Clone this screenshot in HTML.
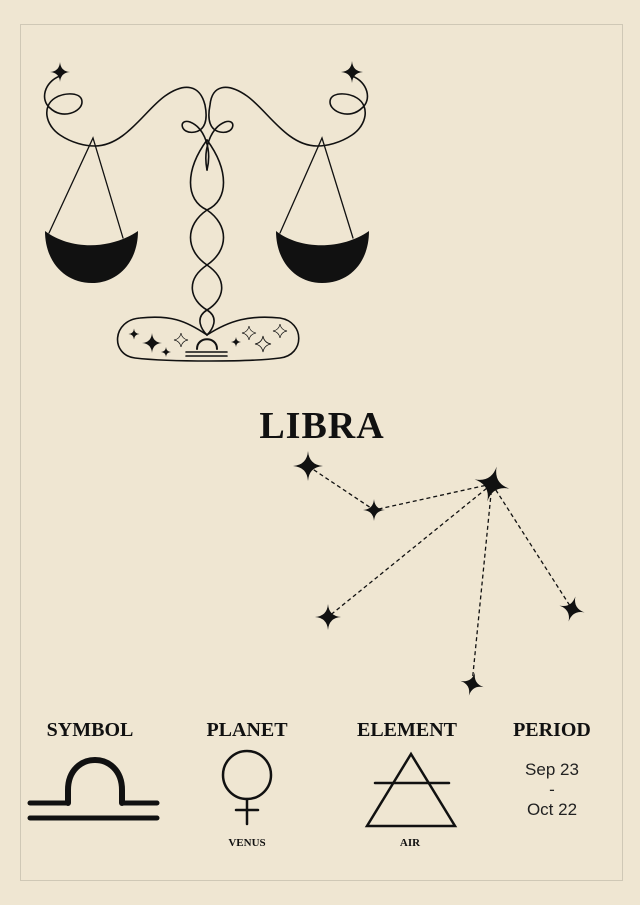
<!DOCTYPE html>
<html><head><meta charset="utf-8"><style>
html,body{margin:0;padding:0;background:#efe6d2;}
svg{display:block}
text{font-family:"Liberation Serif",serif;fill:#111}
</style></head><body>
<svg width="640" height="905" viewBox="0 0 640 905" xmlns="http://www.w3.org/2000/svg">
<defs>
<path id="st" d="M0,-10 Q0.7,-0.7 10,0 Q0.7,0.7 0,10 Q-0.7,0.7 -10,0 Q-0.7,-0.7 0,-10Z"/>
<path id="so" d="M0,-10 Q1.5,-1.5 10,0 Q1.5,1.5 0,10 Q-1.5,1.5 -10,0 Q-1.5,-1.5 0,-10Z" fill="none" stroke="#111" stroke-width="1"/>
</defs>
<rect x="0" y="0" width="640" height="905" fill="#efe6d2"/>
<rect x="20.5" y="24.5" width="602" height="856" fill="none" stroke="#cfc8b6" stroke-width="1"/>
<g fill="none" stroke="#111" stroke-width="1.6" stroke-linecap="round">
<path d="M60,76 C44,82 40,100 50,108 C62,120 82,112 82,102 C82,92 65,92 55,98 C42,106 45,125 60,135 C72,143 85,146 95,146 C125,146 145,110 165,96 C185,82 200,85 205,105 C208,120 205,130 195,132 C180,135 178,118 190,122 C205,128 212,150 207,170"/>
<path d="M352,76 C368,82 372,100 362,108 C350,120 330,112 330,102 C330,92 347,92 357,98 C370,106 367,125 352,135 C340,143 327,146 317,146 C287,146 267,110 247,96 C227,82 212,85 210,105 C207,120 210,130 220,132 C235,135 237,118 225,122 C210,128 203,150 207,170"/>
<path d="M207,140 C185,170 185,200 207,210 C229,225 229,250 207,265 C185,280 190,300 207,310 C220,318 212,330 207,335"/>
<path d="M207,140 C229,170 229,200 207,210 C185,225 185,250 207,265 C229,280 224,300 207,310 C194,318 202,330 207,335"/>
<path d="M207,335 C230,320 250,315 280,318 C305,322 305,355 280,358 C250,362 170,362 135,358 C110,355 112,320 140,318 C170,315 185,320 207,335Z"/>
<path d="M197,349 C197,336 217,336 217,349" stroke-width="2"/>
<line x1="186" y1="352" x2="227" y2="352" stroke-width="1.6"/>
<line x1="186" y1="356" x2="227" y2="356" stroke-width="1.6"/>
<path d="M49,233 L93,138 L123,238" stroke-width="1.3"/>
<path d="M280,233 L322,138 L353,238" stroke-width="1.3"/>
</g>
<path d="M45,231 C70,250 110,250 138,231 C138,262 118,283 92,283 C65,283 45,262 45,231Z" fill="#111"/>
<path d="M276,231 C300,250 342,250 369,231 C369,262 350,283 322,283 C296,283 276,262 276,231Z" fill="#111"/>
<g fill="#111">
<use href="#st" transform="translate(60,72) scale(1)"/>
<use href="#st" transform="translate(352,72) scale(1.1)"/>
<use href="#st" transform="translate(134,334) scale(0.55)"/>
<use href="#st" transform="translate(152,343) scale(1)"/>
<use href="#st" transform="translate(166,352) scale(0.5)"/>
<use href="#st" transform="translate(236,342) scale(0.5)"/>
</g>
<use href="#so" transform="translate(181,340) scale(0.7)"/>
<use href="#so" transform="translate(249,333) scale(0.7)"/>
<use href="#so" transform="translate(263,344) scale(0.8)"/>
<use href="#so" transform="translate(280,331) scale(0.7)"/>
<text x="322" y="438" font-size="38" font-weight="bold" text-anchor="middle" letter-spacing="1">LIBRA</text>
<g stroke="#111" stroke-width="1.3" stroke-dasharray="4,3" fill="none">
<polyline points="308,466 374,510 492,484"/>
<line x1="492" y1="484" x2="328" y2="617"/>
<line x1="492" y1="484" x2="572" y2="609"/>
<line x1="492" y1="484" x2="472" y2="684"/>
</g>
<g fill="#111">
<use href="#st" transform="translate(308,466) scale(1.5)"/>
<use href="#st" transform="translate(374,510) scale(1.1)"/>
<use href="#st" transform="translate(492,484) scale(1.8) rotate(15)"/>
<use href="#st" transform="translate(328,617) scale(1.3)"/>
<use href="#st" transform="translate(572,609) scale(1.3) rotate(15)"/>
<use href="#st" transform="translate(472,684) scale(1.2) rotate(15)"/>
</g>
<g font-size="20" font-weight="bold" text-anchor="middle">
<text x="90" y="736">SYMBOL</text>
<text x="247" y="736">PLANET</text>
<text x="407" y="736">ELEMENT</text>
<text x="552" y="736">PERIOD</text>
</g>
<g fill="none" stroke="#111" stroke-linecap="round">
<path d="M68,803 L68,790 C68,750 122,750 122,790 L122,803" stroke-width="6"/>
<line x1="30" y1="803" x2="66" y2="803" stroke-width="5"/>
<line x1="124" y1="803" x2="157" y2="803" stroke-width="5"/>
<line x1="30" y1="818" x2="157" y2="818" stroke-width="5"/>
<circle cx="247" cy="775" r="24" stroke-width="2.5"/>
<line x1="247" y1="799" x2="247" y2="824" stroke-width="2.5"/>
<line x1="236" y1="810" x2="258" y2="810" stroke-width="2.5"/>
<path d="M367,826 L411,754 L455,826 Z" stroke-width="2.5" stroke-linejoin="miter" stroke-linecap="butt"/>
<line x1="375" y1="783" x2="449" y2="783" stroke-width="2.5"/>
</g>
<g font-size="11" font-weight="bold" text-anchor="middle">
<text x="247" y="846">VENUS</text>
<text x="410" y="846">AIR</text>
</g>
<g font-size="17" text-anchor="middle">
<text x="552" y="775" style="font-family:'Liberation Sans',sans-serif;fill:#222">Sep 23</text>
<text x="552" y="795" style="font-family:'Liberation Sans',sans-serif;fill:#222">-</text>
<text x="552" y="815" style="font-family:'Liberation Sans',sans-serif;fill:#222">Oct 22</text>
</g>
</svg>
</body></html>
